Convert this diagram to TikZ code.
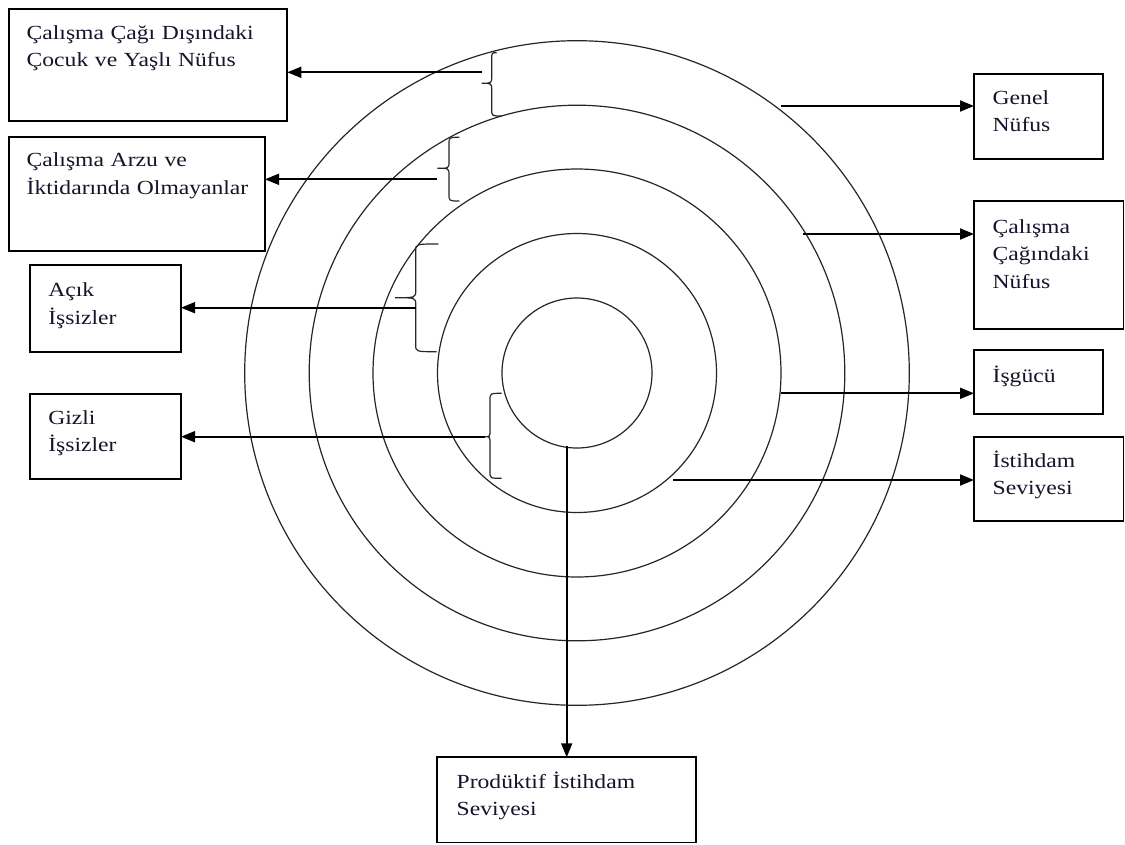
\documentclass[tikz,border=0pt]{standalone}
\usepackage{fontspec}
\setmainfont{Liberation Serif}[FakeStretch=1.18]
\usetikzlibrary{arrows.meta}
\definecolor{txtcol}{HTML}{14142A}
\newcommand\cbrace[7]{\draw[bracelin] (#2,#3) .. controls (#1,#3) .. (#1,{#3+7}) -- (#1,{#5-7}) .. controls (#1,#5) .. (#4,#5) .. controls (#1,#5) .. (#1,{#5+7}) -- (#1,{#7-7}) .. controls (#1,#7) .. (#6,#7);}
\begin{document}
\begin{tikzpicture}[x=1pt,y=-1pt,
  boxnode/.style={draw=black, line width=1.7pt, rectangle, inner sep=0pt, outer sep=0pt, anchor=north west},
  txt/.style={anchor=base west, inner sep=0pt, outer sep=0pt, text width=330pt, align=left, text=txtcol, font=\fontsize{20}{27.5}\selectfont},
  ring/.style={draw=black!85, line width=1.2pt},
  arr/.style={draw=black, line width=1.8pt, -{Triangle[length=14pt,width=11pt]}},
  bracelin/.style={draw=black!85, line width=1.2pt}]
\useasboundingbox (0,0) rectangle (1125,844);
\fill[white] (0,0) rectangle (1125,844);
% circles
\coordinate (cen) at (577,373);
\draw[ring] (cen) circle[radius=332.3];
\draw[ring] (cen) circle[radius=267.8];
\draw[ring] (cen) circle[radius=204];
\draw[ring] (cen) circle[radius=139.5];
\draw[ring] (cen) circle[radius=75];
% boxes
\node[boxnode, minimum width=278.3pt, minimum height=111.7pt] (b1) at (9,9) {};
\node[boxnode, minimum width=256pt, minimum height=113.4pt] (b2) at (9,137.3) {};
\node[boxnode, minimum width=151pt, minimum height=86.7pt] (b3) at (30,265) {};
\node[boxnode, minimum width=151pt, minimum height=85.3pt] (b4) at (30,394) {};
\node[boxnode, minimum width=129.3pt, minimum height=85pt] (b5) at (974,74) {};
\node[boxnode, minimum width=149.5pt, minimum height=128.3pt] (b6) at (974,200.7) {};
\node[boxnode, minimum width=129.3pt, minimum height=64pt] (b7) at (974,350) {};
\node[boxnode, minimum width=149.5pt, minimum height=83.7pt] (b8) at (974,437.3) {};
\node[boxnode, minimum width=258.7pt, minimum height=85.2pt] (b9) at (437.3,757.3) {};
% texts
\node[txt] (t1) at (26.7,39) {Çalışma Çağı Dışındaki\\Çocuk ve Yaşlı Nüfus};
\node[txt] (t2) at (26.7,166.7) {Çalışma Arzu ve\\İktidarında Olmayanlar};
\node[txt] (t3) at (48.3,296.7) {Açık\\İşsizler};
\node[txt] (t4) at (48.3,424) {Gizli\\İşsizler};
\node[txt] (t5) at (992.7,104.3) {Genel\\Nüfus};
\node[txt] (t6) at (992.7,233.3) {Çalışma\\Çağındaki\\Nüfus};
\node[txt] (t7) at (992.7,382.7) {İşgücü};
\node[txt] (t8) at (992.7,467.3) {İstihdam\\Seviyesi};
\node[txt] (t9) at (456.7,788) {Prodüktif İstihdam\\Seviyesi};
% braces
\cbrace{491.7}{496.7}{52.7}{481.7}{83.3}{501.7}{116}
\cbrace{449}{459.3}{137.3}{437.3}{168.3}{459.3}{201}
\cbrace{415.7}{438.3}{244}{395}{297.7}{436.7}{351.7}
\cbrace{490}{501.7}{393.3}{485}{436.7}{501.7}{478.3}
% arrow start points
\coordinate (s1) at (481.7,72.3);
\coordinate (s2) at (437.3,179.3);
\coordinate (s3) at (415.7,307.7);
\coordinate (s4) at (485,436.7);
\coordinate (s5) at (780.7,106);
\coordinate (s6) at (803.3,234);
\coordinate (s7) at (780.7,393.3);
\coordinate (s8) at (673.3,480);
\coordinate (s9) at (566.7,446);
\draw[arr] (s1) -- (s1 -| b1.east);
\draw[arr] (s2) -- (s2 -| b2.east);
\draw[arr] (s3) -- (s3 -| b3.east);
\draw[arr] (s4) -- (s4 -| b4.east);
\draw[arr] (s5) -- (s5 -| b5.west);
\draw[arr] (s6) -- (s6 -| b6.west);
\draw[arr] (s7) -- (s7 -| b7.west);
\draw[arr] (s8) -- (s8 -| b8.west);
\draw[arr] (s9) -- (s9 |- b9.north);
\end{tikzpicture}
\end{document}
